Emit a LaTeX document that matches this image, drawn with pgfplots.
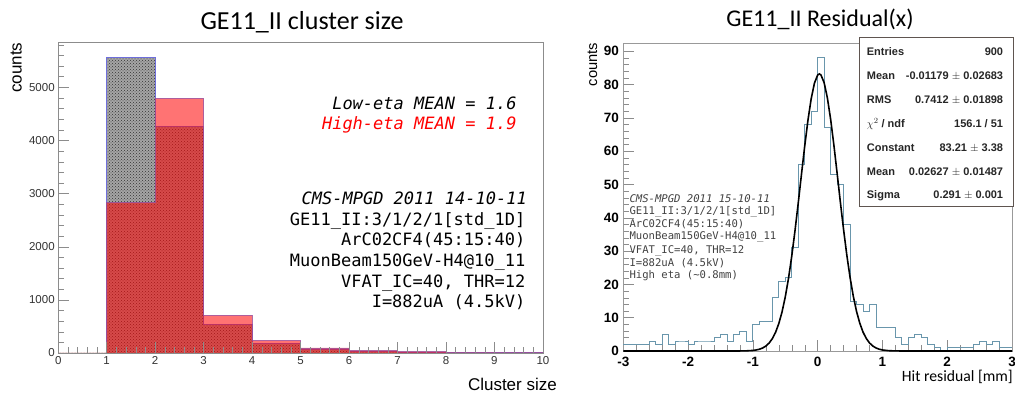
\documentclass[border=0pt]{standalone}
\usepackage{pgfplots}
\pgfplotsset{compat=1.18}
\usepackage{pgfplotstable}
\usetikzlibrary{patterns}
\usepackage{fontspec}
\setmainfont{Liberation Sans}
\newfontfamily\carlito{Carlito}
\newfontfamily\dmono{DejaVu Sans Mono}
\definecolor{histblue}{RGB}{105,150,172}
\definecolor{framegray}{RGB}{140,140,140}
\definecolor{lowgray}{RGB}{165,165,165}
\definecolor{outblue}{RGB}{110,110,220}
\definecolor{annogray}{RGB}{65,65,65}
\definecolor{boxline}{RGB}{95,85,80}

\pgfplotstableread{
x low high
0 0 0
1 5565 2829
2 4272 4793
3 540 709
4 182 231
5 60 95
6 30 43
7 15 25
8 8 12
9 4 5
10 4 5
}\leftdata

\pgfplotstableread{
x c
-3.0 2
-2.9 2
-2.8 2
-2.7 2
-2.6 3
-2.5 2
-2.4 5
-2.3 2
-2.2 3
-2.1 3
-2.0 2
-1.9 3
-1.8 3
-1.7 3
-1.6 4
-1.5 5
-1.4 3
-1.3 5
-1.2 6
-1.1 3
-1.0 8
-0.9 9
-0.8 9
-0.7 16
-0.6 21
-0.5 22
-0.4 31
-0.3 56
-0.2 68
-0.1 72
0.0 88
0.1 67
0.2 53
0.3 50
0.4 38
0.5 15
0.6 14
0.7 12
0.8 14
0.9 7
1.0 7
1.1 7
1.2 4
1.3 2
1.4 4
1.5 5
1.6 4
1.7 2
1.8 1
1.9 0
2.0 1
2.1 1
2.2 1
2.3 1
2.4 2
2.5 3
2.6 2
2.7 3
2.8 1
2.9 1
3.0 1
}\resid

\pgfplotstableread{
x f
-3.0 0
-1.3 0.006
-1.2 0.012
-1.1 0.047
-1.0 0.166
-0.95 0.299
-0.9 0.525
-0.85 0.894
-0.8 1.477
-0.75 2.371
-0.7 3.694
-0.65 5.590
-0.6 8.213
-0.55 11.71
-0.5 16.22
-0.45 21.80
-0.4 28.46
-0.35 36.07
-0.3 44.38
-0.25 53.02
-0.2 61.50
-0.15 69.26
-0.1 75.74
-0.05 80.40
0.0 82.87
0.02627 83.21
0.05 82.93
0.1 80.58
0.15 76.02
0.2 69.63
0.25 61.92
0.3 53.46
0.35 44.81
0.4 36.48
0.45 28.83
0.5 22.12
0.55 16.47
0.6 11.91
0.65 8.368
0.7 5.704
0.75 3.775
0.8 2.427
0.85 1.514
0.9 0.918
0.95 0.540
1.0 0.308
1.1 0.092
1.2 0.024
1.3 0.006
3.0 0
}\gausfit

\begin{document}
\begin{tikzpicture}[x=1pt,y=1pt]
\path[use as bounding box] (0,0) rectangle (1015,395);

% ---------------- left panel ----------------
\begin{axis}[
  at={(58.2pt,42pt)}, anchor=south west,
  scale only axis, width=484.7pt, height=310.3pt,
  xmin=0, xmax=10, ymin=0, ymax=5840,
  xtick={0,1,...,10}, minor xtick={0.2,0.4,...,9.9},
  ytick={0,1000,...,5000}, minor ytick={200,400,...,5800},
  tick align=inside, tick pos=left,
  major tick length=11pt, minor tick length=6pt,
  axis line style={draw=framegray},
  every tick/.style={draw=framegray},
  ticklabel style={font=\fontsize{11.5}{12}\selectfont, text=black!80},
  /pgf/number format/assume math mode=true,
  /pgf/number format/1000 sep={},
  axis on top, clip=false]
\addplot[const plot mark left, fill=lowgray, draw=outblue, line width=0.7pt,
  postaction={pattern=crosshatch dots, pattern color=black!80}]
  table[x=x, y=low] {\leftdata} \closedcycle;
\addplot[const plot mark left, fill=red, fill opacity=0.55, draw=outblue!70!red, draw opacity=0.8, line width=0.7pt]
  table[x=x, y=high] {\leftdata} \closedcycle;
\end{axis}

% ---------------- right panel ----------------
\begin{axis}[
  at={(623.3pt,44pt)}, anchor=south west,
  scale only axis, width=388.7pt, height=307.7pt,
  xmin=-3, xmax=3, ymin=0, ymax=92.4,
  xtick={-3,-2,...,3}, minor x tick num=4,
  ytick={0,10,...,90}, minor y tick num=4,
  tick align=inside, tick pos=left,
  major tick length=11pt, minor tick length=6pt,
  axis line style={draw=gray!80},
  every tick/.style={draw=gray!90},
  ticklabel style={font=\fontsize{13.5}{14}\selectfont\bfseries, text=black},
  xticklabel style={yshift=-3pt},
  yticklabel style={xshift=-1pt},
  /pgf/number format/assume math mode=true,
  clip=false]
\addplot[const plot mark left, draw=histblue, line width=0.9pt]
  table[x=x, y=c] {\resid};
\addplot[draw=black, line width=1.6pt] table[x=x, y=f] {\gausfit};
\end{axis}

% titles and labels
\node[anchor=base, inner sep=0, font=\carlito\fontsize{26}{28}\selectfont] at (302,365) {GE11\_II cluster size};
\node[anchor=base, inner sep=0, font=\carlito\fontsize{24}{26}\selectfont] at (820,368.3) {GE11\_II Residual(x)};
\node[rotate=90, anchor=north east, inner sep=0, font=\fontsize{17}{18}\selectfont] at (10.5,352.5) {counts};
\node[rotate=90, anchor=north east, inner sep=0, font=\fontsize{14.7}{16}\selectfont] at (587.5,352.5) {counts};
\node[anchor=base east, inner sep=0, font=\fontsize{17}{18}\selectfont] at (557,4.3) {Cluster size};
\node[anchor=base east, inner sep=0, font=\carlito\fontsize{15.7}{17}\selectfont] at (1013,13.3) {Hit residual [mm]};

% left annotations
\begin{scope}[every node/.style={anchor=base east, inner sep=0, font=\dmono\fontsize{17}{20}\selectfont}]
\node at (516.7,285.5) {\itshape Low-eta MEAN = 1.6};
\node[text=red] at (516.7,265.5) {\itshape High-eta MEAN = 1.9};
\node at (527,190.5) {\itshape CMS-MPGD 2011 14-10-11};
\node at (525.5,169.8) {GE11\_II:3/1/2/1[std\_1D]};
\node at (525.5,149.1) {ArC02CF4(45:15:40)};
\node at (525.5,128.4) {MuonBeam150GeV-H4@10\_11};
\node at (525.5,107.7) {VFAT\_IC=40, THR=12};
\node at (525.5,87.0) {I=882uA (4.5kV)};
\end{scope}

% right annotations
\begin{scope}[every node/.style={anchor=base west, inner sep=0, text=annogray, font=\dmono\fontsize{10.6}{12}\selectfont}]
\node at (629.3,192.8) {\itshape CMS-MPGD 2011 15-10-11};
\node at (629.3,180.1) {GE11\_II:3/1/2/1[std\_1D]};
\node at (629.3,167.8) {ArC02CF4(45:15:40)};
\node at (629.3,155.1) {MuonBeam150GeV-H4@10\_11};
\node at (629.3,141.1) {VFAT\_IC=40, THR=12};
\node at (629.3,128.4) {I=882uA (4.5kV)};
\node at (629.3,116.1) {High eta (\textasciitilde0.8mm)};
\end{scope}

% stats box
\draw[boxline, line width=0.8pt, fill=white] (859,188.3) rectangle (1013.5,357.7);
\begin{scope}[every node/.style={inner sep=0, text height=8pt, text depth=0pt, text=black!85, font=\fontsize{11}{12}\selectfont\bfseries}]
\node[anchor=west] at (866.7,343.3) {Entries};
\node[anchor=east] at (1003.3,343.3) {900};
\node[anchor=west] at (866.7,319) {Mean};
\node[anchor=east] at (1003.3,319) {-0.01179 $\pm$ 0.02683};
\node[anchor=west] at (866.7,295.7) {RMS};
\node[anchor=east] at (1003.3,295.7) {0.7412 $\pm$ 0.01898};
\node[anchor=west] at (866.7,271.7) {$\chi^{2}$ / ndf};
\node[anchor=east] at (1003.3,271.7) {156.1 / 51};
\node[anchor=west] at (866.7,247.7) {Constant};
\node[anchor=east] at (1003.3,247.7) {83.21 $\pm$ 3.38};
\node[anchor=west] at (866.7,223.3) {Mean};
\node[anchor=east] at (1003.3,223.3) {0.02627 $\pm$ 0.01487};
\node[anchor=west] at (866.7,200) {Sigma};
\node[anchor=east] at (1003.3,200) {0.291 $\pm$ 0.001};
\end{scope}
\end{tikzpicture}
\end{document}
